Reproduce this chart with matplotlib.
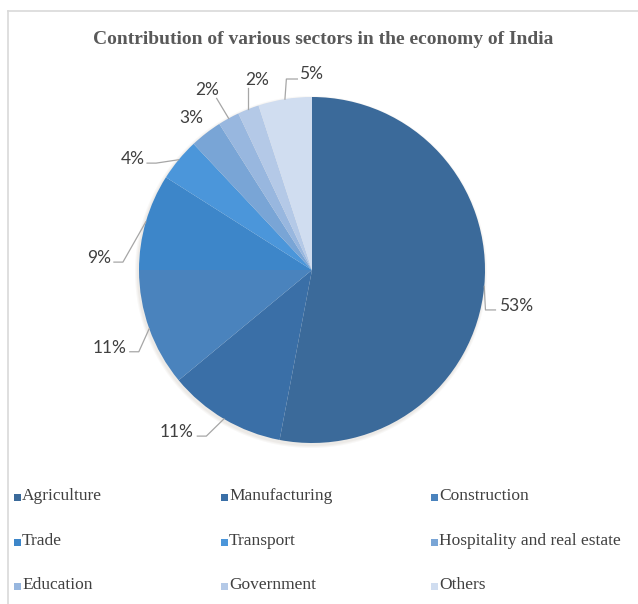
import matplotlib.pyplot as plt
import numpy as np

sectors = ['Agriculture', 'Manufacturing', 'Construction', 'Trade', 'Transport',
           'Hospitality and real estate', 'Education', 'Government', 'Others']
shares = [53, 11, 11, 9, 4, 3, 2, 2, 5]
colors = ['#3b6a9a', '#3a6fa7', '#4a83bd', '#3d86c9', '#4b96da',
          '#79a5d6', '#98b7df', '#b4c9e7', '#d0ddf0']

# label layout tweaks (screen degrees offset from wedge middle, radius in px)
lab_off = [-4.6, -9.2, 1.2, 13.0, 7.9, 0.5, 1.5, -5.5, -8.7]
lab_rad = [207, 211, 217, 213, 211, 194, 208, 198, 196]

W, H = 638, 604
cx, cy, R = 312, 270, 173

fig = plt.figure(figsize=(W / 100, H / 100), dpi=100)
ax = fig.add_axes([0, 0, 1, 1])

# soft shadow under the pie
for k, a in enumerate([0.05, 0.05, 0.06]):
    ax.add_patch(plt.Circle((cx - 1, cy + 2), R + 3 - k, color='#8a7a6a', alpha=a, lw=0, zorder=0))

# y axis is flipped (pixel coords), so counterclock=True draws clockwise on screen
wedges, _ = ax.pie(shares, colors=colors, startangle=-90, counterclock=True,
                   center=(cx, cy), radius=R, frame=True,
                   wedgeprops=dict(linewidth=0, zorder=2))
ax.set_xlim(0, W)
ax.set_ylim(H, 0)
ax.set_aspect('equal')
ax.axis('off')

lab_font = dict(family='Lato', fontsize=12.5, color='#404040')
line_kw = dict(color='#a6a6a6', lw=0.9, zorder=3)
for w, v, off, r in zip(wedges, shares, lab_off, lab_rad):
    mid = np.deg2rad((w.theta1 + w.theta2) / 2)
    ex, ey = cx + R * np.cos(mid), cy + R * np.sin(mid)
    la = mid - np.deg2rad(off)
    tx, ty = cx + r * np.cos(la), cy + r * np.sin(la)
    txt = f'{v}%'
    ax.text(tx, ty, txt, ha='center', va='center', **lab_font)
    hw = 5.8 * len(txt)
    c = np.cos(la)
    if np.hypot(ex - tx, ey - ty) < 25:
        continue
    if c < -0.55:
        x0, y0 = tx + hw + 3, ty + 4
        ax.plot([x0, x0 + 9, ex], [y0, y0, ey], **line_kw)
    elif c > 0.55:
        x0, y0 = tx - hw - 3, ty + 4
        ax.plot([x0, x0 - 10, ex], [y0, y0, ey], **line_kw)
    elif tx - hw > ex + 5:
        x0, y0 = tx - hw - 2, ty + 5
        ax.plot([x0, x0 - 11, ex], [y0, y0, ey], **line_kw)
    else:
        x0, y0 = np.clip(ex, tx - hw + 2, tx + hw - 2), ty + 8
        ax.plot([x0, ex], [y0, ey], **line_kw)

ax.text(323, 40, 'Contribution of various sectors in the economy of India',
        ha='center', va='center', family='Liberation Serif', fontweight='bold',
        fontsize=14, color='#595959')

# legend, three per row
col_x = [17, 224, 434]
row_y = [496, 541, 585]
for i, (name, col) in enumerate(zip(sectors, colors)):
    x, y = col_x[i % 3], row_y[i // 3]
    ax.add_patch(plt.Rectangle((x - 3, y - 2), 6.5, 6.5, color=col, lw=0))
    ax.text(x + 5, y, name, ha='left', va='center', family='Liberation Serif',
            fontsize=12.5, color='#404040')

# chart frame (top and left edges)
ax.plot([8, W], [11, 11], color='#d9d9d9', lw=1.2)
ax.plot([8, 8], [11, H], color='#d9d9d9', lw=1.2)

fig.savefig('out.png', dpi=100)
